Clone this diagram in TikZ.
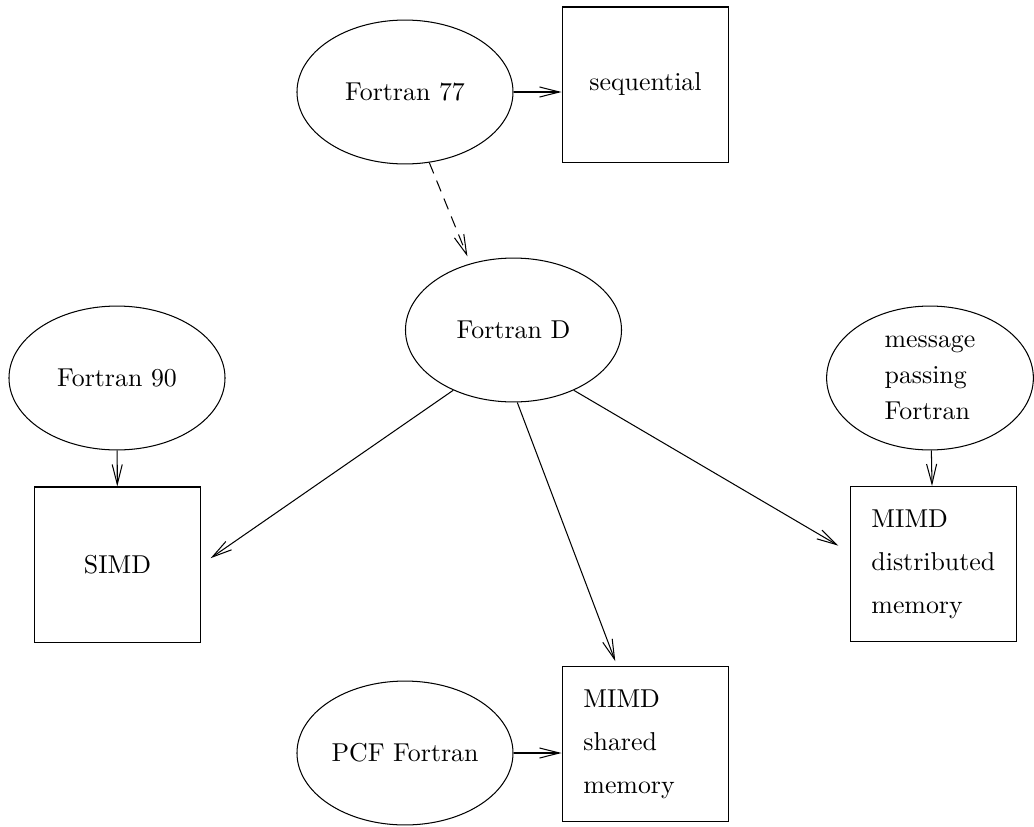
\documentclass[tikz,border=0pt]{standalone}
\usetikzlibrary{shapes.geometric,arrows.meta}
\begin{document}
\begin{tikzpicture}[x=0.387pt,y=-0.387pt,
                lang/.style={draw,ellipse,minimum width=83.6pt,minimum height=55.7pt,inner sep=0pt,align=left},
                machine/.style={draw,rectangle,minimum width=64.6pt,minimum height=60pt,inner sep=0pt},
                multi/.style={text width=48pt,align=left,font=\fontsize{10}{16.6}\selectfont},
                >={Straight Barb[length=7.7pt,width=3.9pt]}]
                \useasboundingbox (0,0) rectangle (1034,827);
                \node[lang] (f77) at (405,92) {Fortran 77};
                \node[machine] (seq) at (645.5,84.5) {sequential};
                \node[lang] (fd) at (513.5,330) {Fortran D};
                \node[lang] (f90) at (117,378) {Fortran 90};
                \node[lang,minimum width=80pt,font=\fontsize{10}{14}\selectfont] (mpf) at (930,378) {message\\passing\\Fortran};
                \node[machine] (simd) at (117.5,564.5) {SIMD};
                \node[machine,multi] (mimdd) at (933.5,564) {MIMD\\distributed\\memory};
                \node[lang] (pcf) at (405,753) {PCF Fortran};
                \node[machine,multi] (mimds) at (645.5,744) {MIMD\\shared\\memory};

                \draw[->] (f77.east) -- (f77.east -| seq.west);
                \draw[->,dash pattern=on 4.5pt off 3pt,shorten >=3pt] (f77.-71) -- (fd.123);
                \draw[->] (f90) -- (simd);
                \draw[->] (mpf) -- (mimdd);
                \draw[->,shorten >=4.3pt] (fd.225) -- (simd.east);
                \draw[->,shorten >=2pt] (fd.-87) -- (mimds.110);
                \draw[->,shorten >=5pt] (fd.-45) -- (mimdd.172);
                \draw[->] (pcf.east) -- (pcf.east -| mimds.west);
\end{tikzpicture}
\end{document}
